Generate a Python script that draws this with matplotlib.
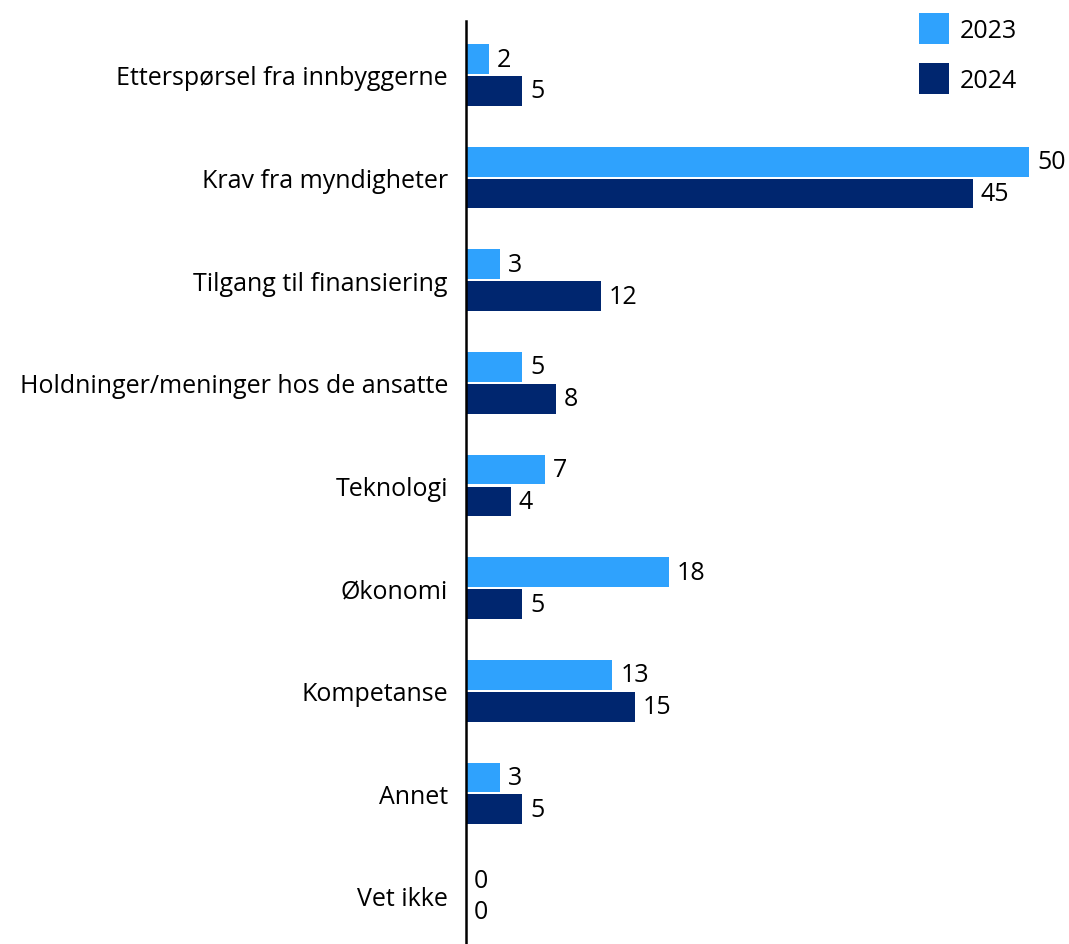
import matplotlib.pyplot as plt
import numpy as np

plt.rcParams['font.family'] = ['Open Sans', 'DejaVu Sans']

# Data
categories = ['Etterspørsel fra innbyggerne', 'Krav fra myndigheter', 'Tilgang til finansiering',
              'Holdninger/meninger hos de ansatte', 'Teknologi', 'Økonomi', 'Kompetanse',
              'Annet', 'Vet ikke']
values_2023 = [2, 50, 3, 5, 7, 18, 13, 3, 0]
values_2024 = [5, 45, 12, 8, 4, 5, 15, 5, 0]

c2023 = '#2fa2fd'
c2024 = '#00266f'
fs = 18

fig = plt.figure(figsize=(10.69, 9.45), dpi=100)
ax = fig.add_axes([466 / 1069, 0, 1 - 466 / 1069, 923 / 945])

y = np.arange(len(categories))
h = 0.29
b1 = ax.barh(y - 0.155, values_2023, height=h, color=c2023, label='2023')
b2 = ax.barh(y + 0.155, values_2024, height=h, color=c2024, label='2024')

for rect, v in zip(b1, values_2023):
    ax.text(v + 0.7, rect.get_y() + rect.get_height() / 2, str(v), va='center', ha='left', fontsize=fs)
for rect, v in zip(b2, values_2024):
    ax.text(v + 0.7, rect.get_y() + rect.get_height() / 2, str(v), va='center', ha='left', fontsize=fs)

ax.set_xlim(0, 603 / 11.26)
ax.set_ylim(8.468, -0.526)
ax.set_yticks(y)
ax.set_yticklabels(categories, fontsize=fs)
ax.tick_params(axis='y', length=0, pad=13)
ax.set_xticks([])
for s in ['top', 'right', 'bottom']:
    ax.spines[s].set_visible(False)
ax.spines['left'].set_linewidth(1.8)

fig.legend(handles=[b1, b2], loc='upper right', bbox_to_anchor=(1017 / 1069, 1 - 14 / 945), frameon=False,
           fontsize=fs, handlelength=1.2, handleheight=1.5, labelspacing=0.79, handletextpad=0.45,
           borderpad=0, borderaxespad=0)

plt.savefig('out.png', dpi=100)
